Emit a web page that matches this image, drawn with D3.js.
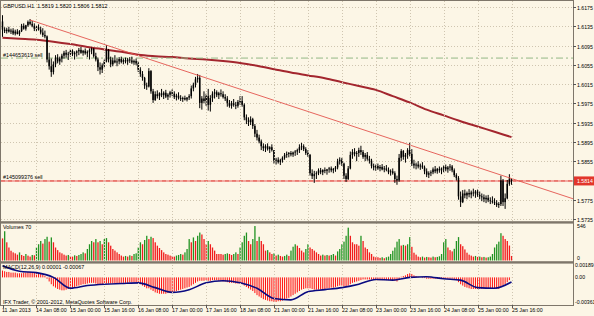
<!DOCTYPE html>
<html>
<head>
<meta charset="utf-8">
<script src="https://cdnjs.cloudflare.com/ajax/libs/d3/7.8.5/d3.min.js"></script>
<style>
  html, body { margin: 0; padding: 0; background: #fcf6e6; }
  svg { display: block; font-family: "Liberation Sans", Arial, sans-serif; }
  text { white-space: pre; }
</style>
</head>
<body>
<svg id="chart" width="594" height="316"></svg>
<script>
// DATA (GBPUSD H1, one value per bar, bar 0 = 11 Jan 2013 16:00)
const symbol = "GBPUSD.H1";
const firstOpen = 1.6145;

const highs = [
  1.6158,1.6133,1.6132,1.6134,1.6130,1.6131,1.6128,1.6129,1.6127,1.6140,
  1.6141,1.6138,1.6147,1.6150,1.6146,1.6141,1.6137,1.6139,1.6134,1.6131,
  1.6126,1.6116,1.6080,1.6068,1.6062,1.6075,1.6077,1.6072,1.6078,1.6084,
  1.6086,1.6082,1.6088,1.6087,1.6083,1.6085,1.6090,1.6092,1.6086,1.6089,
  1.6085,1.6089,1.6091,1.6090,1.6080,1.6070,1.6060,1.6058,1.6066,1.6096,
  1.6088,1.6072,1.6070,1.6075,1.6068,1.6071,1.6072,1.6068,1.6070,1.6069,
  1.6071,1.6072,1.6066,1.6068,1.6063,1.6050,1.6042,1.6030,1.6018,1.6048,
  1.6044,1.6005,1.6000,1.6002,1.5998,1.6005,1.6000,1.6003,1.5996,1.6001,
  1.6004,1.6000,1.5995,1.5998,1.5992,1.5989,1.5991,1.5988,1.5994,1.6012,
  1.6018,1.6030,1.6036,1.6034,1.5990,1.6000,1.5995,1.6005,1.5992,1.6000,
  1.6005,1.6002,1.5999,1.6004,1.6000,1.5994,1.5990,1.5982,1.5980,1.5984,
  1.5978,1.5982,1.5990,1.5990,1.5975,1.5952,1.5946,1.5948,1.5945,1.5932,
  1.5920,1.5910,1.5900,1.5892,1.5890,1.5892,1.5886,1.5890,1.5878,1.5862,
  1.5863,1.5860,1.5865,1.5872,1.5875,1.5874,1.5876,1.5875,1.5878,1.5881,
  1.5890,1.5893,1.5890,1.5884,1.5878,1.5870,1.5838,1.5835,1.5834,1.5840,
  1.5841,1.5838,1.5842,1.5839,1.5843,1.5844,1.5841,1.5845,1.5860,1.5863,
  1.5862,1.5852,1.5830,1.5845,1.5875,1.5880,1.5882,1.5876,1.5883,1.5887,
  1.5878,1.5872,1.5874,1.5866,1.5860,1.5850,1.5848,1.5850,1.5847,1.5849,
  1.5845,1.5847,1.5842,1.5838,1.5840,1.5834,1.5825,1.5870,1.5880,1.5878,
  1.5872,1.5882,1.5893,1.5880,1.5858,1.5852,1.5855,1.5850,1.5853,1.5846,
  1.5840,1.5834,1.5836,1.5842,1.5845,1.5841,1.5844,1.5842,1.5846,1.5848,
  1.5845,1.5849,1.5847,1.5840,1.5830,1.5824,1.5792,1.5795,1.5796,1.5792,
  1.5797,1.5794,1.5798,1.5795,1.5796,1.5792,1.5788,1.5786,1.5784,1.5785,
  1.5780,1.5782,1.5778,1.5774,1.5770,1.5825,1.5818,1.5788,1.5816,1.5828,1.5820
];

const lows = [
  1.6113,1.6121,1.6120,1.6122,1.6119,1.6117,1.6116,1.6118,1.6115,1.6123,
  1.6128,1.6126,1.6134,1.6137,1.6133,1.6125,1.6124,1.6126,1.6118,1.6113,
  1.6110,1.6060,1.6045,1.6030,1.6035,1.6050,1.6058,1.6055,1.6060,1.6068,
  1.6070,1.6065,1.6072,1.6073,1.6066,1.6072,1.6075,1.6078,1.6074,1.6076,
  1.6071,1.6066,1.6077,1.6070,1.6062,1.6042,1.6035,1.6038,1.6048,1.6060,
  1.6060,1.6050,1.6052,1.6058,1.6052,1.6056,1.6058,1.6056,1.6058,1.6055,
  1.6059,1.6057,1.6055,1.6054,1.6040,1.6030,1.6022,1.6005,1.6003,1.6008,
  1.5995,1.5976,1.5980,1.5985,1.5982,1.5988,1.5984,1.5986,1.5982,1.5987,
  1.5990,1.5984,1.5981,1.5983,1.5980,1.5978,1.5981,1.5979,1.5982,1.5985,
  1.6000,1.6008,1.6018,1.5965,1.5962,1.5975,1.5970,1.5960,1.5958,1.5978,
  1.5985,1.5988,1.5984,1.5989,1.5985,1.5980,1.5968,1.5966,1.5964,1.5968,
  1.5963,1.5966,1.5972,1.5968,1.5940,1.5932,1.5928,1.5930,1.5922,1.5905,
  1.5898,1.5892,1.5878,1.5876,1.5874,1.5877,1.5872,1.5875,1.5850,1.5848,
  1.5850,1.5847,1.5852,1.5858,1.5862,1.5863,1.5865,1.5864,1.5866,1.5868,
  1.5872,1.5878,1.5876,1.5868,1.5864,1.5825,1.5818,1.5810,1.5818,1.5826,
  1.5828,1.5826,1.5830,1.5827,1.5831,1.5832,1.5830,1.5833,1.5838,1.5848,
  1.5845,1.5818,1.5812,1.5816,1.5838,1.5860,1.5865,1.5855,1.5864,1.5868,
  1.5860,1.5855,1.5856,1.5850,1.5840,1.5836,1.5835,1.5837,1.5834,1.5836,
  1.5832,1.5834,1.5828,1.5825,1.5827,1.5810,1.5806,1.5812,1.5855,1.5858,
  1.5852,1.5860,1.5865,1.5845,1.5840,1.5838,1.5840,1.5837,1.5839,1.5828,
  1.5822,1.5820,1.5824,1.5828,1.5830,1.5829,1.5831,1.5828,1.5832,1.5834,
  1.5831,1.5835,1.5832,1.5822,1.5815,1.5775,1.5760,1.5768,1.5778,1.5776,
  1.5780,1.5778,1.5782,1.5779,1.5781,1.5776,1.5772,1.5770,1.5768,1.5770,
  1.5766,1.5767,1.5764,1.5760,1.5758,1.5762,1.5762,1.5756,1.5776,1.5804,1.5806
];

const closes = [
  1.6128,1.6125,1.6128,1.6124,1.6126,1.6120,1.6124,1.6119,1.6125,1.6136,
  1.6130,1.6137,1.6144,1.6140,1.6136,1.6130,1.6133,1.6128,1.6122,1.6117,
  1.6114,1.6066,1.6052,1.6040,1.6056,1.6070,1.6062,1.6068,1.6074,1.6080,
  1.6076,1.6078,1.6084,1.6077,1.6080,1.6083,1.6086,1.6080,1.6084,1.6079,
  1.6082,1.6085,1.6088,1.6073,1.6066,1.6050,1.6045,1.6054,1.6062,1.6086,
  1.6066,1.6056,1.6064,1.6060,1.6062,1.6067,1.6061,1.6065,1.6062,1.6066,
  1.6064,1.6060,1.6063,1.6058,1.6045,1.6036,1.6028,1.6012,1.6010,1.6042,
  1.6000,1.5982,1.5994,1.5990,1.5996,1.5992,1.5997,1.5989,1.5993,1.5998,
  1.5995,1.5988,1.5991,1.5986,1.5984,1.5986,1.5983,1.5987,1.5990,1.6006,
  1.6014,1.6025,1.6028,1.5976,1.5985,1.5980,1.5990,1.5972,1.5986,1.5995,
  1.5998,1.5992,1.5996,1.5994,1.5988,1.5985,1.5976,1.5970,1.5975,1.5972,
  1.5970,1.5978,1.5980,1.5972,1.5946,1.5940,1.5936,1.5942,1.5928,1.5912,
  1.5904,1.5896,1.5886,1.5882,1.5886,1.5880,1.5884,1.5878,1.5856,1.5858,
  1.5853,1.5857,1.5862,1.5868,1.5870,1.5872,1.5869,1.5873,1.5875,1.5878,
  1.5884,1.5886,1.5880,1.5872,1.5868,1.5830,1.5824,1.5828,1.5830,1.5836,
  1.5832,1.5837,1.5835,1.5838,1.5840,1.5836,1.5839,1.5842,1.5855,1.5858,
  1.5850,1.5825,1.5818,1.5840,1.5868,1.5874,1.5870,1.5872,1.5878,1.5874,
  1.5864,1.5868,1.5860,1.5856,1.5845,1.5842,1.5845,1.5840,1.5843,1.5838,
  1.5840,1.5837,1.5832,1.5834,1.5830,1.5818,1.5815,1.5862,1.5876,1.5864,
  1.5868,1.5878,1.5870,1.5850,1.5846,1.5848,1.5844,1.5846,1.5842,1.5834,
  1.5827,1.5830,1.5832,1.5838,1.5834,1.5839,1.5836,1.5840,1.5843,1.5838,
  1.5842,1.5844,1.5836,1.5826,1.5820,1.5782,1.5770,1.5788,1.5784,1.5789,
  1.5786,1.5790,1.5788,1.5792,1.5785,1.5782,1.5780,1.5776,1.5779,1.5774,
  1.5772,1.5770,1.5768,1.5764,1.5766,1.5815,1.5770,1.5778,1.5808,1.5819,1.5812
];

const volumes = [
  340,450,280,200,150,125,110,90,125,85,
  70,100,75,60,85,80,200,250,300,260,
  330,365,290,355,280,200,160,125,110,90,
  76,85,70,60,80,70,85,100,125,110,
  177,250,300,280,330,280,300,250,330,345,
  280,228,177,152,125,100,76,60,70,60,
  80,70,100,110,200,280,250,315,380,330,
  365,345,280,228,192,160,125,100,90,76,
  70,60,76,85,100,90,125,177,330,280,
  355,300,380,430,400,330,250,300,250,200,
  152,100,100,100,90,100,110,100,85,100,
  125,100,200,280,380,430,300,250,330,530,
  300,365,300,250,152,160,125,100,110,76,
  90,70,60,70,90,70,152,212,250,228,
  192,152,125,177,250,200,177,152,125,100,
  76,90,76,85,76,85,100,76,140,177,
  250,290,380,505,380,280,250,250,228,380,
  300,200,177,125,100,60,50,50,40,50,
  35,50,60,100,150,200,290,330,230,240,
  228,250,360,210,120,90,60,50,60,45,
  55,50,45,60,50,55,65,100,280,330,
  200,160,140,180,300,360,250,220,170,120,
  90,75,60,70,55,60,50,55,45,50,
  60,100,200,250,290,420,380,330,300,230,70
];

const macdMain = [
  0.0010,0.0009,0.0008,0.0008,0.0007,0.0007,0.0007,0.0006,0.0006,0.0006,
  0.0007,0.0007,0.0008,0.0008,0.0007,0.0007,0.0007,0.0006,0.0005,0.0004,
  0.0002,-0.0002,-0.0006,-0.0010,-0.0013,-0.0015,-0.0017,-0.0018,-0.0019,-0.0019,
  -0.0018,-0.0017,-0.0016,-0.0015,-0.0014,-0.0013,-0.0012,-0.0011,-0.0010,-0.0010,
  -0.0009,-0.0008,-0.0008,-0.0008,-0.0009,-0.0010,-0.0011,-0.0011,-0.0011,-0.0009,
  -0.0009,-0.0009,-0.0009,-0.0009,-0.0009,-0.0009,-0.0008,-0.0008,-0.0008,-0.0008,
  -0.0007,-0.0007,-0.0007,-0.0007,-0.0008,-0.0010,-0.0012,-0.0014,-0.0016,-0.0016,
  -0.0018,-0.0020,-0.0022,-0.0023,-0.0024,-0.0024,-0.0024,-0.0024,-0.0023,-0.0023,
  -0.0022,-0.0021,-0.0020,-0.0019,-0.0018,-0.0017,-0.0016,-0.0015,-0.0014,-0.0012,
  -0.0010,-0.0008,-0.0006,-0.0005,-0.0005,-0.0005,-0.0004,-0.0005,-0.0005,-0.0004,
  -0.0004,-0.0004,-0.0005,-0.0005,-0.0006,-0.0006,-0.0007,-0.0008,-0.0008,-0.0008,
  -0.0009,-0.0009,-0.0009,-0.0010,-0.0012,-0.0014,-0.0016,-0.0018,-0.0020,-0.0023,
  -0.0026,-0.0028,-0.0030,-0.0032,-0.0033,-0.0034,-0.0035,-0.0035,-0.0036,-0.0036,
  -0.0035,-0.0035,-0.0034,-0.0033,-0.0031,-0.0030,-0.0028,-0.0026,-0.0024,-0.0022,
  -0.0020,-0.0018,-0.0017,-0.0016,-0.0016,-0.0016,-0.0017,-0.0018,-0.0018,-0.0018,
  -0.0018,-0.0017,-0.0017,-0.0016,-0.0016,-0.0015,-0.0015,-0.0014,-0.0013,-0.0012,
  -0.0012,-0.0013,-0.0013,-0.0012,-0.0010,-0.0008,-0.0007,-0.0006,-0.0005,-0.0004,
  -0.0003,-0.0003,-0.0003,-0.0003,-0.0003,-0.0003,-0.0004,-0.0004,-0.0004,-0.0004,
  -0.0004,-0.0004,-0.0004,-0.0004,-0.0005,-0.0005,-0.0006,-0.0003,0.0001,0.0002,
  0.0003,0.0005,0.0006,0.0005,0.0003,0.0002,0.0001,0.0000,-0.0001,-0.0001,
  -0.0002,-0.0002,-0.0002,-0.0002,-0.0002,-0.0002,-0.0002,-0.0002,-0.0002,-0.0002,
  -0.0002,-0.0002,-0.0002,-0.0003,-0.0004,-0.0007,-0.0010,-0.0012,-0.0014,-0.0015,
  -0.0016,-0.0017,-0.0017,-0.0017,-0.0017,-0.0017,-0.0017,-0.0017,-0.0017,-0.0017,
  -0.0017,-0.0017,-0.0017,-0.0017,-0.0017,-0.0014,-0.0012,-0.0010,-0.0007,-0.0004,0.00001
];

// signal line and moving average, read every 8 bars
const sampleStep = 8;
const macdSignal = [
  0.0017,0.0009,0.0007,0.0000,-0.0016,-0.0012,-0.0010,-0.0009,-0.0008,-0.0015,
  -0.0022,-0.0018,-0.0008,-0.0005,-0.0008,-0.0016,-0.0031,-0.0033,-0.0021,-0.0018,
  -0.0015,-0.0010,-0.0003,-0.0004,0.0000,0.0001,-0.0002,-0.0004,-0.0015,-0.0016,-0.00067
];
const movingAvg = [
  1.6111,1.6109,1.6107,1.6103,1.6098,1.6092,1.6087,1.6082,1.6076,1.6073,
  1.6071,1.6068,1.6066,1.6063,1.6059,1.6053,1.6046,1.6039,1.6033,1.6027,
  1.6019,1.6011,1.6003,1.5990,1.5977,1.5962,1.5950,1.5938,1.5927,1.5916,1.5905
];

const trendLine = [[13, 1.6148], [269, 1.5777]];
const orders = [
  { label: "#144653619 sell", price: 1.6069 },
  { label: "#145099376 sell", price: 1.5814 }
];
const bid = 1.5814;

const priceTicks = [1.6175, 1.6135, 1.6095, 1.6055, 1.6015, 1.5975, 1.5935, 1.5895, 1.5855, 1.5775, 1.5735];
const volumeTicks = [546, 0];
const macdTicks = [0.00189, 0.00, -0.00361];
const timeBars = [0, 16, 32, 48, 64, 80, 96, 112, 128, 144, 160, 176, 192, 208, 224, 240];
const timeLabels = ["11 Jan 2013", "14 Jan 08:00", "15 Jan 00:00", "15 Jan 16:00", "16 Jan 08:00",
  "17 Jan 00:00", "17 Jan 16:00", "18 Jan 08:00", "21 Jan 00:00", "21 Jan 16:00", "22 Jan 08:00",
  "23 Jan 00:00", "23 Jan 16:00", "24 Jan 08:00", "25 Jan 00:00", "25 Jan 16:00"];

// LAYOUT
const W = 594, H = 316;
const left = 1, right = 573;
const mainTop = 1, mainBottom = 221, volTop = 224, volBottom = 261, macdTop = 264, macdBottom = 305;
const fs = 5.4;

const svg = d3.select("#chart");
svg.append("rect").attr("width", W).attr("height", H).attr("fill", "#fcf6e6");

const x = d3.scaleLinear().domain([0, 240]).range([2.5, 511.5]);
const y = d3.scaleLinear().domain([1.5735, 1.6175]).range([219, 7]);
const yVol = d3.scaleLinear().domain([0, 546]).range([260.5, 225]);
const yMacd = d3.scaleLinear().domain([-0.00361, 0.00189]).range([302, 264.5]);

const defs = svg.append("defs");
function clip(id, y0, y1) {
  defs.append("clipPath").attr("id", id).append("rect")
    .attr("x", left).attr("y", y0).attr("width", right - left).attr("height", y1 - y0);
  return svg.append("g").attr("clip-path", `url(#${id})`);
}
const gMain = clip("cMain", mainTop, mainBottom);
const gVol = clip("cVol", volTop, volBottom);
const gMacd = clip("cMacd", macdTop, macdBottom);

// GRID
const gridColor = "#cfc5b0";
gMain.selectAll("line.hg").data(priceTicks.concat([1.5815])).join("line")
  .attr("x1", left).attr("x2", right)
  .attr("y1", d => Math.round(y(d)) + 0.5).attr("y2", d => Math.round(y(d)) + 0.5)
  .attr("stroke", gridColor).attr("stroke-dasharray", "1,2");
svg.selectAll("line.vg").data(timeBars.slice(1)).join("line")
  .attr("x1", d => Math.round(x(d)) + 0.5).attr("x2", d => Math.round(x(d)) + 0.5)
  .attr("y1", mainTop).attr("y2", macdBottom)
  .attr("stroke", gridColor).attr("stroke-dasharray", "1,2");

// MOVING AVERAGE
gMain.append("path")
  .datum(movingAvg)
  .attr("d", d3.line().x((d, k) => x(k * sampleStep)).y(d => y(d)).curve(d3.curveMonotoneX))
  .attr("fill", "none").attr("stroke", "#a3262e").attr("stroke-width", 2);

// ORDER LINES
gMain.append("line")
  .attr("x1", left).attr("x2", right)
  .attr("y1", y(orders[0].price)).attr("y2", y(orders[0].price))
  .attr("stroke", "#93b985").attr("stroke-width", 1).attr("stroke-dasharray", "7,3,2,3");
gMain.append("line")
  .attr("x1", left).attr("x2", right)
  .attr("y1", y(orders[1].price)).attr("y2", y(orders[1].price))
  .attr("stroke", "#f3aaa2").attr("stroke-width", 2);
gMain.append("line")
  .attr("x1", left).attr("x2", right)
  .attr("y1", y(orders[1].price)).attr("y2", y(orders[1].price))
  .attr("stroke", "#e2564c").attr("stroke-width", 1).attr("stroke-dasharray", "4,3");

// CANDLES
const candles = closes.map((c, i) => ({
  i, o: i ? closes[i - 1] : firstOpen, h: highs[i], l: lows[i], c
}));
gMain.selectAll("line.wick").data(candles).join("line")
  .attr("x1", d => x(d.i)).attr("x2", d => x(d.i))
  .attr("y1", d => y(d.h)).attr("y2", d => y(d.l))
  .attr("stroke", "#000").attr("stroke-width", 1);
gMain.selectAll("rect.body").data(candles).join("rect")
  .attr("x", d => x(d.i) - 0.75).attr("width", 1.5)
  .attr("y", d => y(Math.max(d.o, d.c)))
  .attr("height", d => Math.max(0.8, Math.abs(y(d.o) - y(d.c))))
  .attr("fill", "#000");

// TREND LINE
gMain.append("line")
  .attr("x1", x(trendLine[0][0])).attr("y1", y(trendLine[0][1]))
  .attr("x2", x(trendLine[1][0])).attr("y2", y(trendLine[1][1]))
  .attr("stroke", "#e3554e").attr("stroke-width", 0.9);

// VOLUMES
gVol.selectAll("rect").data(volumes).join("rect")
  .attr("x", (d, i) => x(i) - 0.6).attr("width", 1.3)
  .attr("y", d => yVol(d)).attr("height", d => yVol(0) - yVol(d))
  .attr("fill", (d, i) => (i > 0 && d > volumes[i - 1]) ? "#229322" : "#f01c1c");

// MACD
gMacd.selectAll("rect").data(macdMain).join("rect")
  .attr("x", (d, i) => x(i) - 0.5).attr("width", 1)
  .attr("y", d => yMacd(Math.max(0, d)))
  .attr("height", d => Math.abs(yMacd(d) - yMacd(0)))
  .attr("fill", "#ff1010");
gMacd.append("path")
  .datum(macdSignal)
  .attr("d", d3.line().x((d, k) => x(k * sampleStep)).y(d => yMacd(d)).curve(d3.curveMonotoneX))
  .attr("fill", "none").attr("stroke", "#0a0a80").attr("stroke-width", 1.6);

// FRAMES
const frame = "#7e766a";
svg.append("rect").attr("x", 0.5).attr("y", 0.5).attr("width", right).attr("height", macdBottom)
  .attr("fill", "none").attr("stroke", frame).attr("stroke-width", 1);
[mainBottom, volBottom].forEach(v => {
  svg.append("rect").attr("x", 0).attr("y", v + 0.2).attr("width", right + 0.5).attr("height", 2.4)
    .attr("fill", frame);
});

// TEXTS
function txt(xp, yp, s, fill, size) {
  return svg.append("text").attr("x", xp).attr("y", yp).text(s)
    .attr("font-size", size || fs).attr("fill", fill || "#000");
}
const last = candles[candles.length - 1];
txt(3, 8, `${symbol}  ${last.o.toFixed(4)} ${last.h.toFixed(4)} ${last.l.toFixed(4)} ${last.c.toFixed(4)}`);
orders.forEach(o => txt(3, y(o.price) - 1.5, o.label));
txt(3, 229, "Volumes " + volumes[volumes.length - 1]);
txt(3, 269, `MACD(12,26,9) ${macdMain[macdMain.length - 1].toFixed(5)} ${macdSignal[macdSignal.length - 1].toFixed(5)}`);
txt(3, 303.5, "IFX Trader, \u00a9 2001-2012, MetaQuotes Software Corp.");

// PRICE AXIS
priceTicks.forEach(p => {
  const yy = Math.round(y(p)) + 0.5;
  svg.append("line").attr("x1", right).attr("x2", right + 3).attr("y1", yy).attr("y2", yy)
    .attr("stroke", "#555");
  txt(577, yy + 2, p.toFixed(4), "#000", 5.2);
});
svg.append("rect").attr("x", 574).attr("y", y(bid) - 4.5).attr("width", 20).attr("height", 9)
  .attr("fill", "#e2362b");
txt(577, y(bid) + 2, bid.toFixed(4), "#fff", 5.2);

txt(577, yVol(volumeTicks[0]) + 2.5, String(volumeTicks[0]), "#000", 5.2);
txt(577, yVol(volumeTicks[1]) - 0.5, String(volumeTicks[1]), "#000", 5.2);
txt(575, yMacd(macdTicks[0]) + 2, macdTicks[0].toFixed(5), "#000", 5.2);
txt(575, yMacd(macdTicks[1]) + 2, macdTicks[1].toFixed(2), "#000", 5.2);
txt(575, yMacd(macdTicks[2]) + 1.5, macdTicks[2].toFixed(5), "#000", 5.2);

// TIME AXIS
timeBars.forEach((b, k) => {
  const xx = Math.round(x(b)) + 0.5;
  svg.append("line").attr("x1", xx).attr("x2", xx).attr("y1", macdBottom).attr("y2", macdBottom + 3)
    .attr("stroke", "#555");
  txt(k === 0 ? 2 : xx - 0.5, 312, timeLabels[k], "#000", 5.3);
});
</script>
</body>
</html>
